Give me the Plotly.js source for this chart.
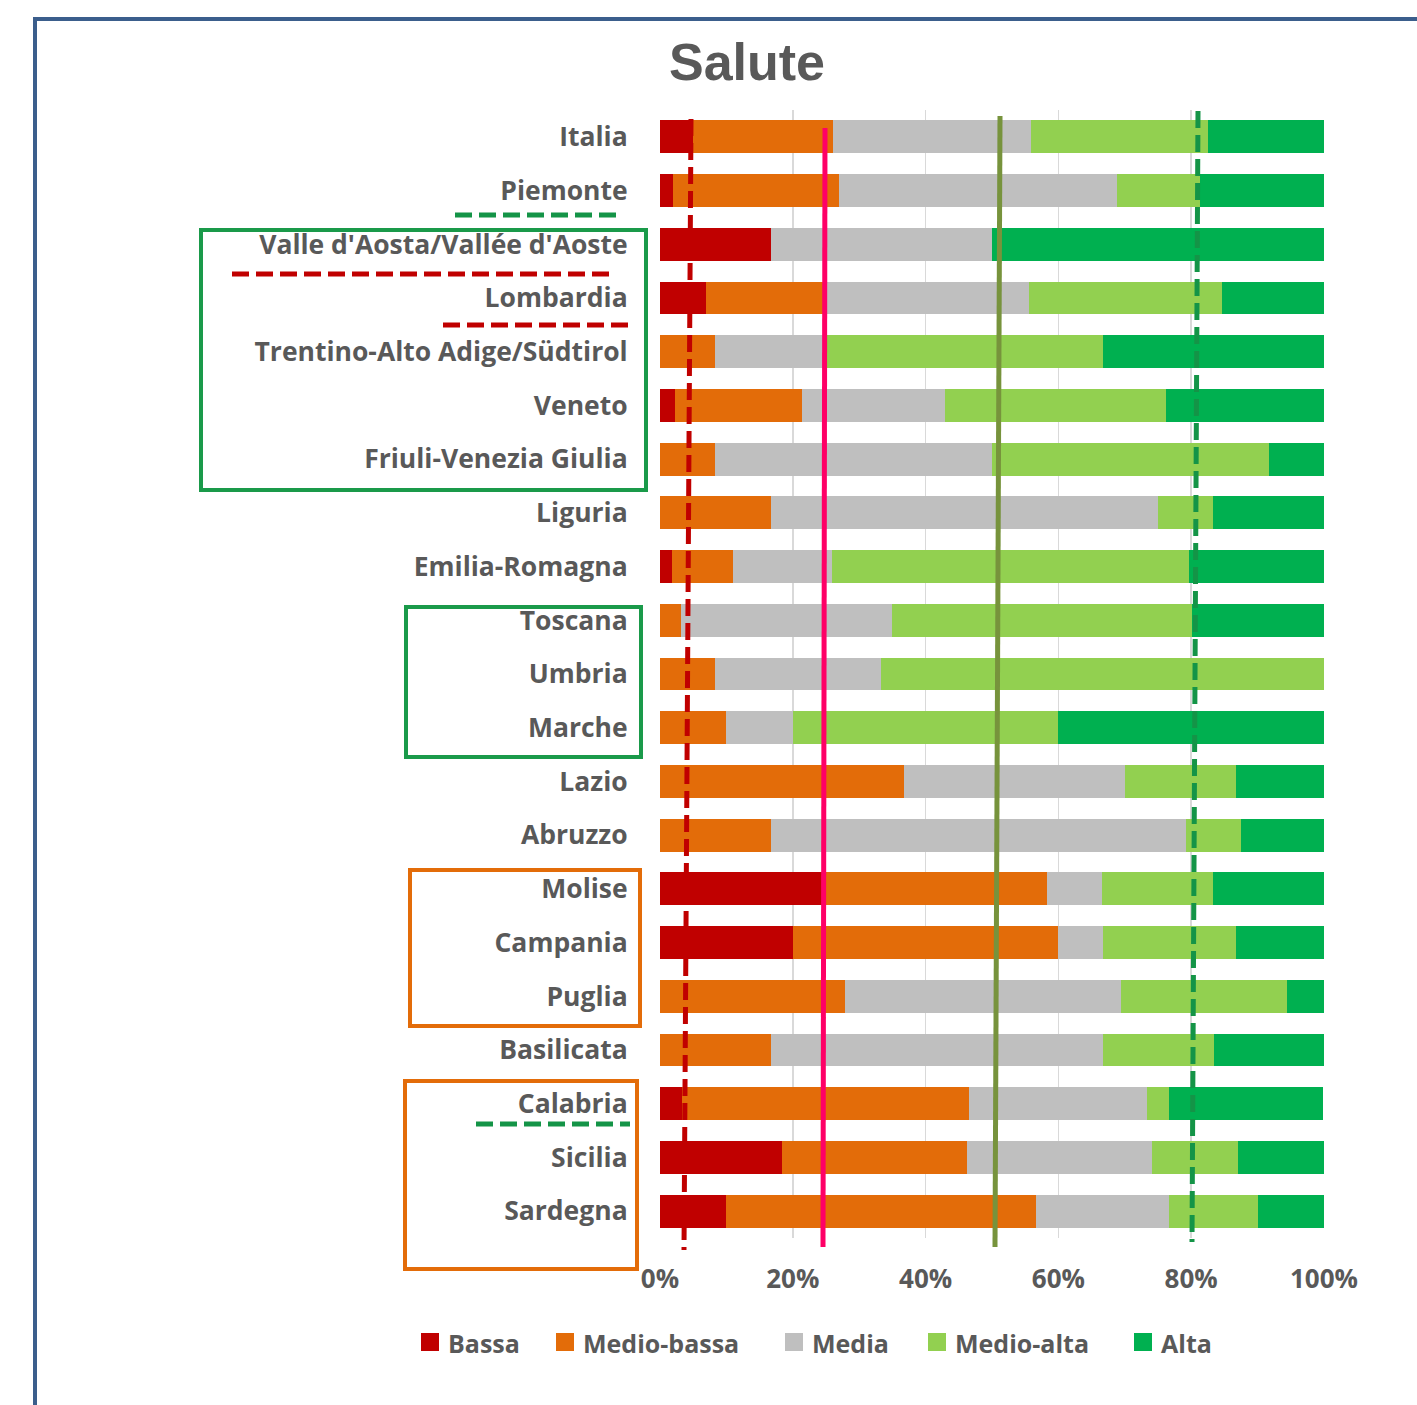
<!DOCTYPE html>
<html>
<head>
<meta charset="utf-8">
<script src="https://cdn.plot.ly/plotly-3.0.1.min.js"></script>
<style>
  html, body { margin: 0; padding: 0; background: #ffffff; }
  #chart { width: 1417px; height: 1405px; }
</style>
</head>
<body>
<div id="chart"></div>
<script>
const categories = ['Italia', 'Piemonte', "Valle d'Aosta/Vallée d'Aoste", 'Lombardia',
  'Trentino-Alto Adige/Südtirol', 'Veneto', 'Friuli-Venezia Giulia', 'Liguria',
  'Emilia-Romagna', 'Toscana', 'Umbria', 'Marche', 'Lazio', 'Abruzzo', 'Molise',
  'Campania', 'Puglia', 'Basilicata', 'Calabria', 'Sicilia', 'Sardegna'];

const seriesNames = ['Bassa', 'Medio-bassa', 'Media', 'Medio-alta', 'Alta'];

const bassa      = [5.0, 2.0, 16.7, 6.9, 0, 2.3, 0, 0, 1.8, 0, 0, 0, 0, 0, 25.0, 20.0, 0, 0, 3.3, 18.4, 10.0];
const medioBassa = [21.0, 25.0, 0, 17.6, 8.3, 19.1, 8.3, 16.7, 9.2, 3.2, 8.3, 10.0, 36.7, 16.7, 33.3, 40.0, 27.8, 16.7, 43.3, 27.8, 46.7];
const media      = [29.8, 41.8, 33.3, 31.1, 16.7, 21.5, 41.7, 58.3, 14.9, 31.8, 25.0, 10.0, 33.3, 62.5, 8.3, 6.7, 41.7, 50.0, 26.7, 27.9, 20.0];
const medioAlta  = [26.8, 12.5, 0, 29.1, 41.7, 33.3, 41.7, 8.3, 53.8, 45.1, 66.7, 40.0, 16.7, 8.3, 16.7, 20.0, 25.0, 16.7, 3.3, 12.9, 13.3];
const alta       = [17.4, 18.7, 50.0, 15.3, 33.3, 23.8, 8.3, 16.7, 20.3, 19.9, 0, 40.0, 13.3, 12.5, 16.7, 13.3, 5.6, 16.7, 23.3, 13.0, 10.0];

const tickVals = [0, 20, 40, 60, 80, 100];
const tickText = ['0%', '20%', '40%', '60%', '80%', '100%'];

const colors = ['#C00000', '#E36C09', '#BFBFBF', '#92D050', '#00B050'];
const values = [bassa, medioBassa, media, medioAlta, alta];

const traces = values.map((v, i) => ({
  type: 'bar',
  orientation: 'h',
  name: seriesNames[i],
  x: v,
  y: categories,
  marker: { color: colors[i], line: { width: 0 } },
  hoverinfo: 'x+y+name',
  showlegend: false
}));

// plot area geometry in pixels
const L = 660, R = 1324, T = 110, B = 1238;
const px = x => (x - L) / (R - L);
const py = y => (B - y) / (B - T);

const fontFam = '"Open Sans", Lato, sans-serif';

const shapes = [];
const annotations = [];
// vertical reference lines (slightly slanted as in the original)
function vline(x0, y0, x1, y1, color, width, dash) {
  shapes.push({ type: 'line', xref: 'paper', yref: 'paper',
    x0: px(x0), y0: py(y0), x1: px(x1), y1: py(y1),
    line: { color: color, width: width, dash: dash }, layer: 'above' });
}
vline(691, 119, 684, 1250, '#C00000', 5, '17px,7px');
vline(825, 128, 823, 1247, '#FF0066', 5, 'solid');
vline(1000, 116, 995, 1247, '#77933C', 5, 'solid');
vline(1198, 111, 1192, 1242, '#149447', 5, '17px,7px');

// horizontal dashed marks in label area
vline(455, 215, 616, 215, '#149447', 5, '17px,7px');
vline(232, 274, 615, 274, '#C00000', 5, '17px,7px');
vline(443, 325, 628, 325, '#C00000', 5, '17px,7px');
vline(476, 1124, 630, 1124, '#149447', 5, '17px,7px');

// highlight boxes
function box(x0, y0, x1, y1, color) {
  shapes.push({ type: 'rect', xref: 'paper', yref: 'paper',
    x0: px(x0), y0: py(y0), x1: px(x1), y1: py(y1),
    line: { color: color, width: 4 }, fillcolor: 'rgba(0,0,0,0)', layer: 'above' });
}
box(201, 230, 646, 490, '#1A9A4A');
box(406, 607, 641, 757, '#1A9A4A');
box(410, 870, 640, 1026, '#E36C09');
box(405, 1081, 637, 1269, '#E36C09');

// outer chart frame (blue)
shapes.push({ type: 'path', xref: 'paper', yref: 'paper',
  path: `M ${px(35)} ${py(1500)} L ${px(35)} ${py(19)} L ${px(1500)} ${py(19)}`,
  line: { color: '#3B5E8C', width: 4 }, layer: 'above' });

// legend (square swatches + labels)
const legendLeft = [421, 556, 785, 928, 1134];
const legendY = 1342;
seriesNames.forEach((name, i) => {
  shapes.push({ type: 'rect', xref: 'paper', yref: 'paper',
    x0: px(legendLeft[i]), x1: px(legendLeft[i] + 18),
    y0: py(legendY - 9), y1: py(legendY + 9),
    fillcolor: colors[i], line: { width: 0 } });
  annotations.push({ xref: 'paper', yref: 'paper',
    x: px(legendLeft[i] + 25), y: py(legendY + 1),
    xanchor: 'left', yanchor: 'middle', showarrow: false,
    text: name,
    font: { family: fontFam, size: 25, color: '#595959', weight: 'bold' } });
});

const layout = {
  width: 1417, height: 1405,
  margin: { l: L, r: 1417 - R, t: T, b: 1405 - B, pad: 0 },
  paper_bgcolor: '#ffffff', plot_bgcolor: '#ffffff',
  barmode: 'stack',
  bargap: 0.386,
  showlegend: false,
  title: {
    text: '<b>Salute</b>',
    font: { family: '"Liberation Sans", Arial, sans-serif', size: 52, color: '#595959' },
    x: px(747), xref: 'paper', xanchor: 'center',
    y: 1 - 62 / 1405, yref: 'container', yanchor: 'middle'
  },
  xaxis: {
    range: [0, 100],
    tickvals: tickVals, ticktext: tickText,
    showgrid: true, gridcolor: '#D9D9D9', gridwidth: 1.5,
    zeroline: false, showline: false,
    ticks: 'outside', ticklen: 18, tickcolor: 'rgba(0,0,0,0)',
    tickfont: { family: fontFam, size: 26, color: '#595959', weight: 'bold' },
    fixedrange: true
  },
  yaxis: {
    type: 'category',
    categoryorder: 'array', categoryarray: categories,
    autorange: 'reversed',
    showgrid: false, zeroline: false, showline: false,
    ticks: 'outside', ticklen: 26, tickcolor: 'rgba(0,0,0,0)',
    tickfont: { family: fontFam, size: 26.5, color: '#595959', weight: 'bold' },
    fixedrange: true
  },
  shapes: shapes,
  annotations: annotations
};

Plotly.newPlot('chart', traces, layout, { staticPlot: true, displayModeBar: false });
</script>
</body>
</html>
